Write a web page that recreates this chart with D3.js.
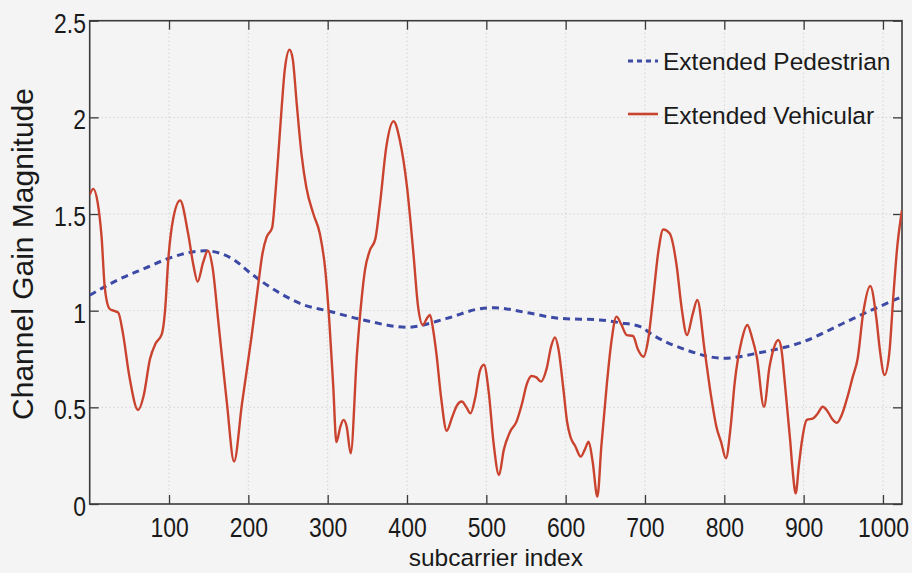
<!DOCTYPE html>
<html>
<head>
<meta charset="utf-8">
<script src="https://cdn.jsdelivr.net/npm/d3@7"></script>
<style>
  html, body { margin: 0; padding: 0; background: #f4f4f4; }
  svg { display: block; }
</style>
</head>
<body>
<svg id="chart" width="912" height="573"></svg>
<script>
// ---- data ----
const vehicularX = [0, 4.5, 10, 15, 19, 25, 30, 36, 42, 50, 61, 68, 76, 83, 91, 95, 99, 105, 114, 124, 131, 136, 143, 149, 155, 162, 173, 182, 192, 204, 212, 218, 223, 230, 234, 238, 242, 246, 252, 256, 261, 267, 273, 282, 290, 297, 302, 307, 311, 316, 320, 324, 329, 337, 343, 347, 353, 360, 366, 374, 383, 391, 400, 408, 414, 420, 425, 429, 433, 437, 443, 450, 457, 463, 469, 475, 480, 486, 492, 497, 503, 509, 516, 522, 530, 538, 545, 551, 557, 563, 569, 576, 582, 586.5, 591, 597, 602, 606, 612, 619, 624, 629, 634, 640, 645, 652, 658, 664, 670, 677, 685, 691, 698, 704, 710, 717, 723, 731, 740, 746, 753, 760, 766, 775, 784, 790, 796, 802, 808, 813, 822, 829, 835, 841, 850, 857, 862, 868, 872, 876, 883, 886, 890, 894, 898, 904, 912, 918, 924, 930, 936, 942, 948, 955, 962, 968, 975, 984, 992, 996, 1002, 1008, 1013, 1018, 1024];
const vehicularY = [1.60, 1.63, 1.56, 1.38, 1.12, 1.01, 1.00, 0.99, 0.88, 0.66, 0.486, 0.56, 0.75, 0.83, 0.88, 1.00, 1.26, 1.47, 1.57, 1.40, 1.23, 1.15, 1.25, 1.31, 1.22, 0.95, 0.52, 0.22, 0.52, 0.865, 1.12, 1.30, 1.38, 1.43, 1.60, 1.82, 2.05, 2.25, 2.35, 2.30, 2.07, 1.81, 1.64, 1.50, 1.40, 1.21, 0.95, 0.61, 0.32, 0.40, 0.435, 0.40, 0.262, 0.78, 1.07, 1.21, 1.31, 1.37, 1.555, 1.85, 1.98, 1.88, 1.64, 1.30, 1.02, 0.926, 0.96, 0.978, 0.90, 0.78, 0.55, 0.379, 0.45, 0.51, 0.53, 0.50, 0.469, 0.55, 0.69, 0.72, 0.58, 0.32, 0.15, 0.28, 0.374, 0.426, 0.52, 0.62, 0.662, 0.655, 0.633, 0.70, 0.82, 0.862, 0.80, 0.60, 0.42, 0.348, 0.30, 0.245, 0.28, 0.322, 0.22, 0.038, 0.30, 0.624, 0.85, 0.969, 0.93, 0.874, 0.869, 0.80, 0.762, 0.85, 1.055, 1.31, 1.42, 1.40, 1.23, 1.02, 0.874, 0.98, 1.055, 0.80, 0.54, 0.40, 0.32, 0.236, 0.40, 0.624, 0.848, 0.926, 0.86, 0.76, 0.503, 0.71, 0.80, 0.848, 0.80, 0.64, 0.33, 0.18, 0.055, 0.20, 0.33, 0.435, 0.443, 0.47, 0.503, 0.48, 0.44, 0.42, 0.46, 0.55, 0.659, 0.75, 0.986, 1.128, 0.95, 0.80, 0.667, 0.78, 1.07, 1.33, 1.52];

const pedestrianX = [0, 36, 70, 99, 145, 183, 204, 240, 270, 299, 345, 400, 450, 492, 510, 551, 593, 643, 668, 694, 710, 752, 799, 845, 900, 950, 984, 1024];
const pedestrianY = [1.08, 1.16, 1.22, 1.27, 1.31, 1.26, 1.19, 1.09, 1.03, 1.00, 0.952, 0.914, 0.96, 1.01, 1.015, 0.99, 0.96, 0.952, 0.938, 0.917, 0.874, 0.797, 0.754, 0.783, 0.84, 0.935, 1.00, 1.072];

const xTickValues = [100, 200, 300, 400, 500, 600, 700, 800, 900, 1000];
const xTickLabels = ["100", "200", "300", "400", "500", "600", "700", "800", "900", "1000"];
const yTickValues = [0, 0.5, 1, 1.5, 2, 2.5];
const yTickLabels = ["0", "0.5", "1", "1.5", "2", "2.5"];

const seriesNames = ["Extended Pedestrian", "Extended Vehicular"];
const xTitle = "subcarrier index";
const yTitle = "Channel Gain Magnitude";

// ---- layout ----
const pL = 89.7, pR = 902, pT = 20.7, pB = 504;
const W = pR - pL, H = pB - pT;
const blue = "#3c4aa6", red = "#c9432f";
const condense = 0.85;
const fontFam = "Liberation Sans, Arial, sans-serif";

const svg = d3.select("#chart");
const x = d3.scaleLinear().domain([0, 1024]).range([pL, pR]);
const y = d3.scaleLinear().domain([0, 2.5]).range([pB, pT]);

// grid
const grid = svg.append("g");
grid.selectAll("line.gx").data(xTickValues).join("line")
  .attr("x1", d => x(d)).attr("x2", d => x(d)).attr("y1", pT).attr("y2", pB)
  .attr("stroke", "#c4c4c4").attr("stroke-width", 1).attr("stroke-dasharray", "1,3");
grid.selectAll("line.gy").data(yTickValues.slice(1, -1)).join("line")
  .attr("x1", pL).attr("x2", pR).attr("y1", d => y(d)).attr("y2", d => y(d))
  .attr("stroke", "#c4c4c4").attr("stroke-width", 1).attr("stroke-dasharray", "1,3");

// axes
const axisColor = "#3a3a3a";
const xAxis = svg.append("g").attr("transform", `translate(0,${pB})`)
  .call(d3.axisBottom(x).tickValues(xTickValues).tickFormat((d, i) => xTickLabels[i]).tickSizeInner(-9).tickSizeOuter(0));
const xTop = svg.append("g").attr("transform", `translate(0,${pT})`)
  .call(d3.axisTop(x).tickValues(xTickValues).tickFormat("").tickSizeInner(-9).tickSizeOuter(0));
const yAxis = svg.append("g").attr("transform", `translate(${pL},0)`)
  .call(d3.axisLeft(y).tickValues(yTickValues).tickFormat((d, i) => yTickLabels[i]).tickSizeInner(-9).tickSizeOuter(0));
const yRight = svg.append("g").attr("transform", `translate(${pR},0)`)
  .call(d3.axisRight(y).tickValues(yTickValues).tickFormat("").tickSizeInner(-9).tickSizeOuter(0));

[xAxis, xTop, yAxis, yRight].forEach(g => {
  g.select(".domain").remove();
  g.selectAll(".tick line").attr("stroke", axisColor).attr("stroke-width", 1.3);
});

xAxis.selectAll(".tick text")
  .attr("font-family", fontFam).attr("font-size", 27).attr("fill", "#1a1a1a")
  .attr("y", 33.5).attr("dy", 0).attr("text-anchor", "middle")
  .attr("transform", `scale(${condense},1)`);
yAxis.selectAll(".tick text")
  .attr("font-family", fontFam).attr("font-size", 27).attr("fill", "#1a1a1a")
  .attr("x", -3.7 / condense).attr("y", 11.5).attr("dy", 0).attr("text-anchor", "end")
  .attr("transform", `scale(${condense},1)`);

// frame
svg.append("rect").attr("x", pL).attr("y", pT).attr("width", W).attr("height", H)
  .attr("fill", "none").attr("stroke", axisColor).attr("stroke-width", 1.6);

// lines
svg.append("clipPath").attr("id", "clip").append("rect")
  .attr("x", pL).attr("y", pT).attr("width", W).attr("height", H);

const line = d3.line().x(d => x(d[0])).y(d => y(d[1])).curve(d3.curveMonotoneX);
const pedData = pedestrianX.map((v, i) => [v, pedestrianY[i]]);
const vehData = vehicularX.map((v, i) => [v, vehicularY[i]]);

svg.append("path").datum(pedData).attr("d", line).attr("clip-path", "url(#clip)")
  .attr("fill", "none").attr("stroke", blue).attr("stroke-width", 3).attr("stroke-dasharray", "7,5");
svg.append("path").datum(vehData).attr("d", line).attr("clip-path", "url(#clip)")
  .attr("fill", "none").attr("stroke", red).attr("stroke-width", 2.4).attr("stroke-linejoin", "round");

// legend
const lg = svg.append("g");
lg.append("line").attr("x1", 628).attr("x2", 658).attr("y1", 61).attr("y2", 61)
  .attr("stroke", blue).attr("stroke-width", 3).attr("stroke-dasharray", "5,4");
lg.append("line").attr("x1", 628).attr("x2", 658).attr("y1", 114).attr("y2", 114)
  .attr("stroke", red).attr("stroke-width", 2.6);
lg.append("text").attr("x", 663).attr("y", 70).text(seriesNames[0])
  .attr("font-family", fontFam).attr("font-size", 24.5).attr("fill", "#1a1a1a");
lg.append("text").attr("x", 663).attr("y", 124).text(seriesNames[1])
  .attr("font-family", fontFam).attr("font-size", 24.5).attr("fill", "#1a1a1a");

// titles
svg.append("text").attr("x", (pL + pR) / 2).attr("y", 566).attr("text-anchor", "middle")
  .attr("font-family", fontFam).attr("font-size", 24.5).attr("fill", "#1a1a1a")
  .text(xTitle);
svg.append("text").attr("transform", `translate(33,254) rotate(-90)`).attr("text-anchor", "middle")
  .attr("font-family", fontFam).attr("font-size", 30).attr("fill", "#1a1a1a")
  .text(yTitle);
</script>
</body>
</html>
